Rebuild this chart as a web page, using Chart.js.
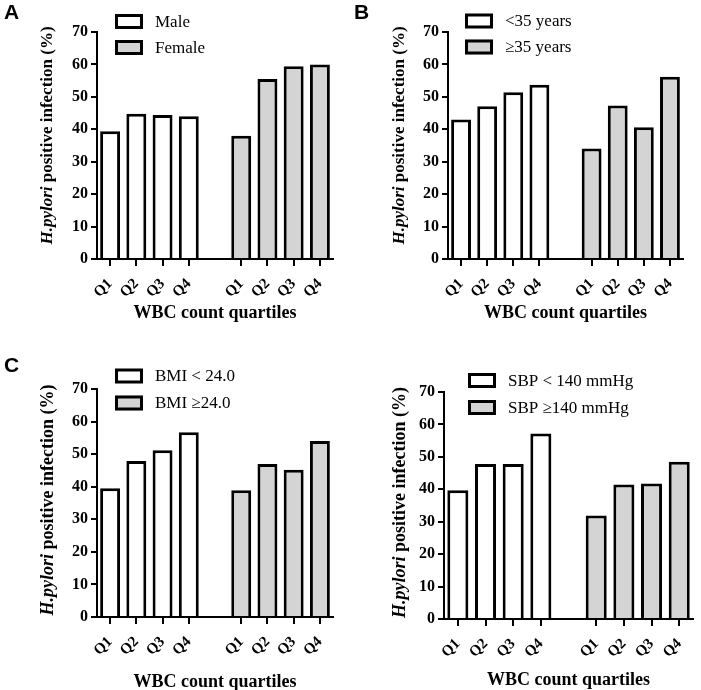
<!DOCTYPE html>
<html lang="en">
<head>
<meta charset="UTF-8">
<title>H. pylori infection by WBC count quartiles</title>
<script src="https://cdn.jsdelivr.net/npm/chart.js@4"></script>
<style>
  body { margin: 0; background: #fff; }
  .wrap { position: relative; width: 701px; height: 690px; }
  .wrap canvas { position: absolute; }
</style>
</head>
<body>
<div class="wrap">
  <canvas id="chartA" style="left:0;top:0" width="350" height="325"></canvas>
  <canvas id="chartB" style="left:350px;top:0" width="351" height="325"></canvas>
  <canvas id="chartC" style="left:0;top:340px" width="350" height="350"></canvas>
  <canvas id="chartD" style="left:350px;top:340px" width="351" height="350"></canvas>
</div>

<script>
// data (% H.pylori positive)
const quartiles = ['Q1', 'Q2', 'Q3', 'Q4'];

const maleVals = [39.4, 44.8, 44.4, 44.0];
const femaleVals = [38.0, 55.5, 59.4, 60.0];

const under35Vals = [43.0, 47.1, 51.4, 53.7];
const over35Vals = [34.1, 47.3, 40.6, 56.2];

const bmiLowVals = [39.5, 47.9, 51.2, 56.7];
const bmiHighVals = [38.9, 47.0, 45.2, 54.0];

const sbpLowVals = [39.7, 47.8, 47.8, 57.2];
const sbpHighVals = [31.9, 41.5, 41.8, 48.5];

const yTicks = [0, 10, 20, 30, 40, 50, 60, 70];

Chart.defaults.font.family = '"Liberation Serif", "Times New Roman", serif';
Chart.defaults.color = '#000';

// both groups share one category axis, with an empty slot between them
const axisLabels = [...quartiles, '', ...quartiles];
const gapIndex = quartiles.length;
const blanks = quartiles.map(() => null);

// draws panel letter, axis titles and the legend
const decorPlugin = {
    id: 'decor',
    afterDraw(chart, args, opts) {
        const { ctx, chartArea } = chart;
        ctx.save();
        ctx.fillStyle = '#000';

        if (opts.letter) {
            ctx.font = 'bold 21px "Liberation Sans", Arial, sans-serif';
            ctx.textAlign = 'left';
            ctx.textBaseline = 'top';
            ctx.fillText(opts.letter, opts.letterX, opts.letterY);
        }

        // y title with italic species name
        const fs = opts.yTitleSize;
        const italicFont = `italic bold ${fs}px "Liberation Serif"`;
        const boldFont = `bold ${fs}px "Liberation Serif"`;
        const part1 = 'H.pylori';
        const part2 = ' positive infection (%)';
        ctx.font = italicFont;
        const w1 = ctx.measureText(part1).width;
        ctx.font = boldFont;
        const w2 = ctx.measureText(part2).width;
        ctx.save();
        ctx.translate(opts.yTitleX, (chartArea.top + chartArea.bottom) / 2 + opts.yTitleShift);
        ctx.rotate(-Math.PI / 2);
        ctx.textAlign = 'left';
        ctx.textBaseline = 'middle';
        const start = -(w1 + w2) / 2;
        ctx.font = italicFont;
        ctx.fillText(part1, start, 0);
        ctx.font = boldFont;
        ctx.fillText(part2, start + w1, 0);
        ctx.restore();

        // x title
        ctx.font = 'bold 18px "Liberation Serif"';
        ctx.textAlign = 'center';
        ctx.textBaseline = 'middle';
        ctx.fillText('WBC count quartiles', (chartArea.left + chartArea.right) / 2,
            chartArea.bottom + opts.xTitleOffset);

        // legend
        chart.data.datasets.forEach((ds, i) => {
            const x = chartArea.left + opts.legendX;
            const y = chartArea.top + opts.legendY + i * opts.legendGap;
            ctx.fillStyle = ds.backgroundColor;
            ctx.fillRect(x, y - 7.5, 28, 15);
            ctx.lineWidth = 3;
            ctx.strokeStyle = '#000';
            ctx.strokeRect(x + 1.5, y - 6, 25, 12);
            ctx.fillStyle = '#000';
            ctx.font = '17px "Liberation Serif"';
            ctx.textAlign = 'left';
            ctx.textBaseline = 'middle';
            ctx.fillText(ds.label, x + 40, y + 1);
        });
        ctx.restore();
    }
};

function makePanel(id, names, valsA, valsB, p) {
    const ctx = document.getElementById(id).getContext('2d');
    new Chart(ctx, {
        type: 'bar',
        data: {
            labels: axisLabels,
            datasets: [{
                label: names[0],
                data: [...valsA, null, ...blanks],
                backgroundColor: '#ffffff'
            }, {
                label: names[1],
                data: [...blanks, null, ...valsB],
                backgroundColor: '#d4d4d4'
            }]
        },
        options: {
            responsive: false,
            animation: false,
            layout: { padding: { left: 0, top: p.top, right: p.right, bottom: 0 } },
            datasets: {
                bar: {
                    grouped: false,
                    categoryPercentage: 1,
                    barPercentage: 0.76,
                    borderColor: '#000',
                    borderWidth: 3,
                    borderSkipped: 'bottom'
                }
            },
            scales: {
                x: {
                    afterFit: s => { s.height = p.xHeight; },
                    grid: {
                        offset: false,
                        drawOnChartArea: false,
                        tickLength: 7,
                        lineWidth: 2,
                        color: c => c.index === gapIndex ? 'rgba(0,0,0,0)' : '#000'
                    },
                    border: { display: true, color: '#000', width: 2 },
                    ticks: {
                        autoSkip: false,
                        minRotation: 45,
                        maxRotation: 45,
                        padding: 9,
                        font: { size: 15, weight: 'bold' }
                    }
                },
                y: {
                    min: 0,
                    max: 70,
                    afterFit: s => { s.width = p.yWidth; },
                    afterBuildTicks: s => { s.ticks = yTicks.map(v => ({ value: v })); },
                    grid: {
                        drawOnChartArea: false,
                        tickLength: 6,
                        lineWidth: 2,
                        color: '#000'
                    },
                    border: { display: true, color: '#000', width: 2 },
                    ticks: {
                        padding: 3,
                        font: { size: 16, weight: 'bold' }
                    }
                }
            },
            plugins: {
                legend: { display: false },
                tooltip: { enabled: false },
                decor: p
            }
        },
        plugins: [decorPlugin]
    });
}

makePanel('chartA', ['Male', 'Female'], maleVals, femaleVals, {
    top: 32, right: 17, yWidth: 97, xHeight: 66, xTitleOffset: 54,
    yTitleX: 48, yTitleSize: 17, yTitleShift: -10,
    letter: 'A', letterX: 4, letterY: 3,
    legendX: 18, legendY: -10.5, legendGap: 26
});
makePanel('chartB', ['<35 years', '\u226535 years'], under35Vals, over35Vals, {
    top: 32, right: 18, yWidth: 98, xHeight: 66, xTitleOffset: 54,
    yTitleX: 50, yTitleSize: 17, yTitleShift: -10,
    letter: 'B', letterX: 4, letterY: 3,
    legendX: 17, legendY: -11, legendGap: 26
});
makePanel('chartC', ['BMI < 24.0', 'BMI \u226524.0'], bmiLowVals, bmiHighVals, {
    top: 49, right: 17, yWidth: 97, xHeight: 73, xTitleOffset: 65,
    yTitleX: 48, yTitleSize: 18, yTitleShift: -3,
    letter: 'C', letterX: 4, letterY: 16,
    legendX: 18, legendY: -13, legendGap: 27
});
makePanel('chartD', ['SBP < 140 mmHg', 'SBP \u2265140 mmHg'], sbpLowVals, sbpHighVals, {
    top: 52, right: 1, yWidth: 94, xHeight: 71, xTitleOffset: 61,
    yTitleX: 50, yTitleSize: 18, yTitleShift: -3,
    letter: '',
    legendX: 24, legendY: -11.5, legendGap: 27
});
</script>
</body>
</html>
